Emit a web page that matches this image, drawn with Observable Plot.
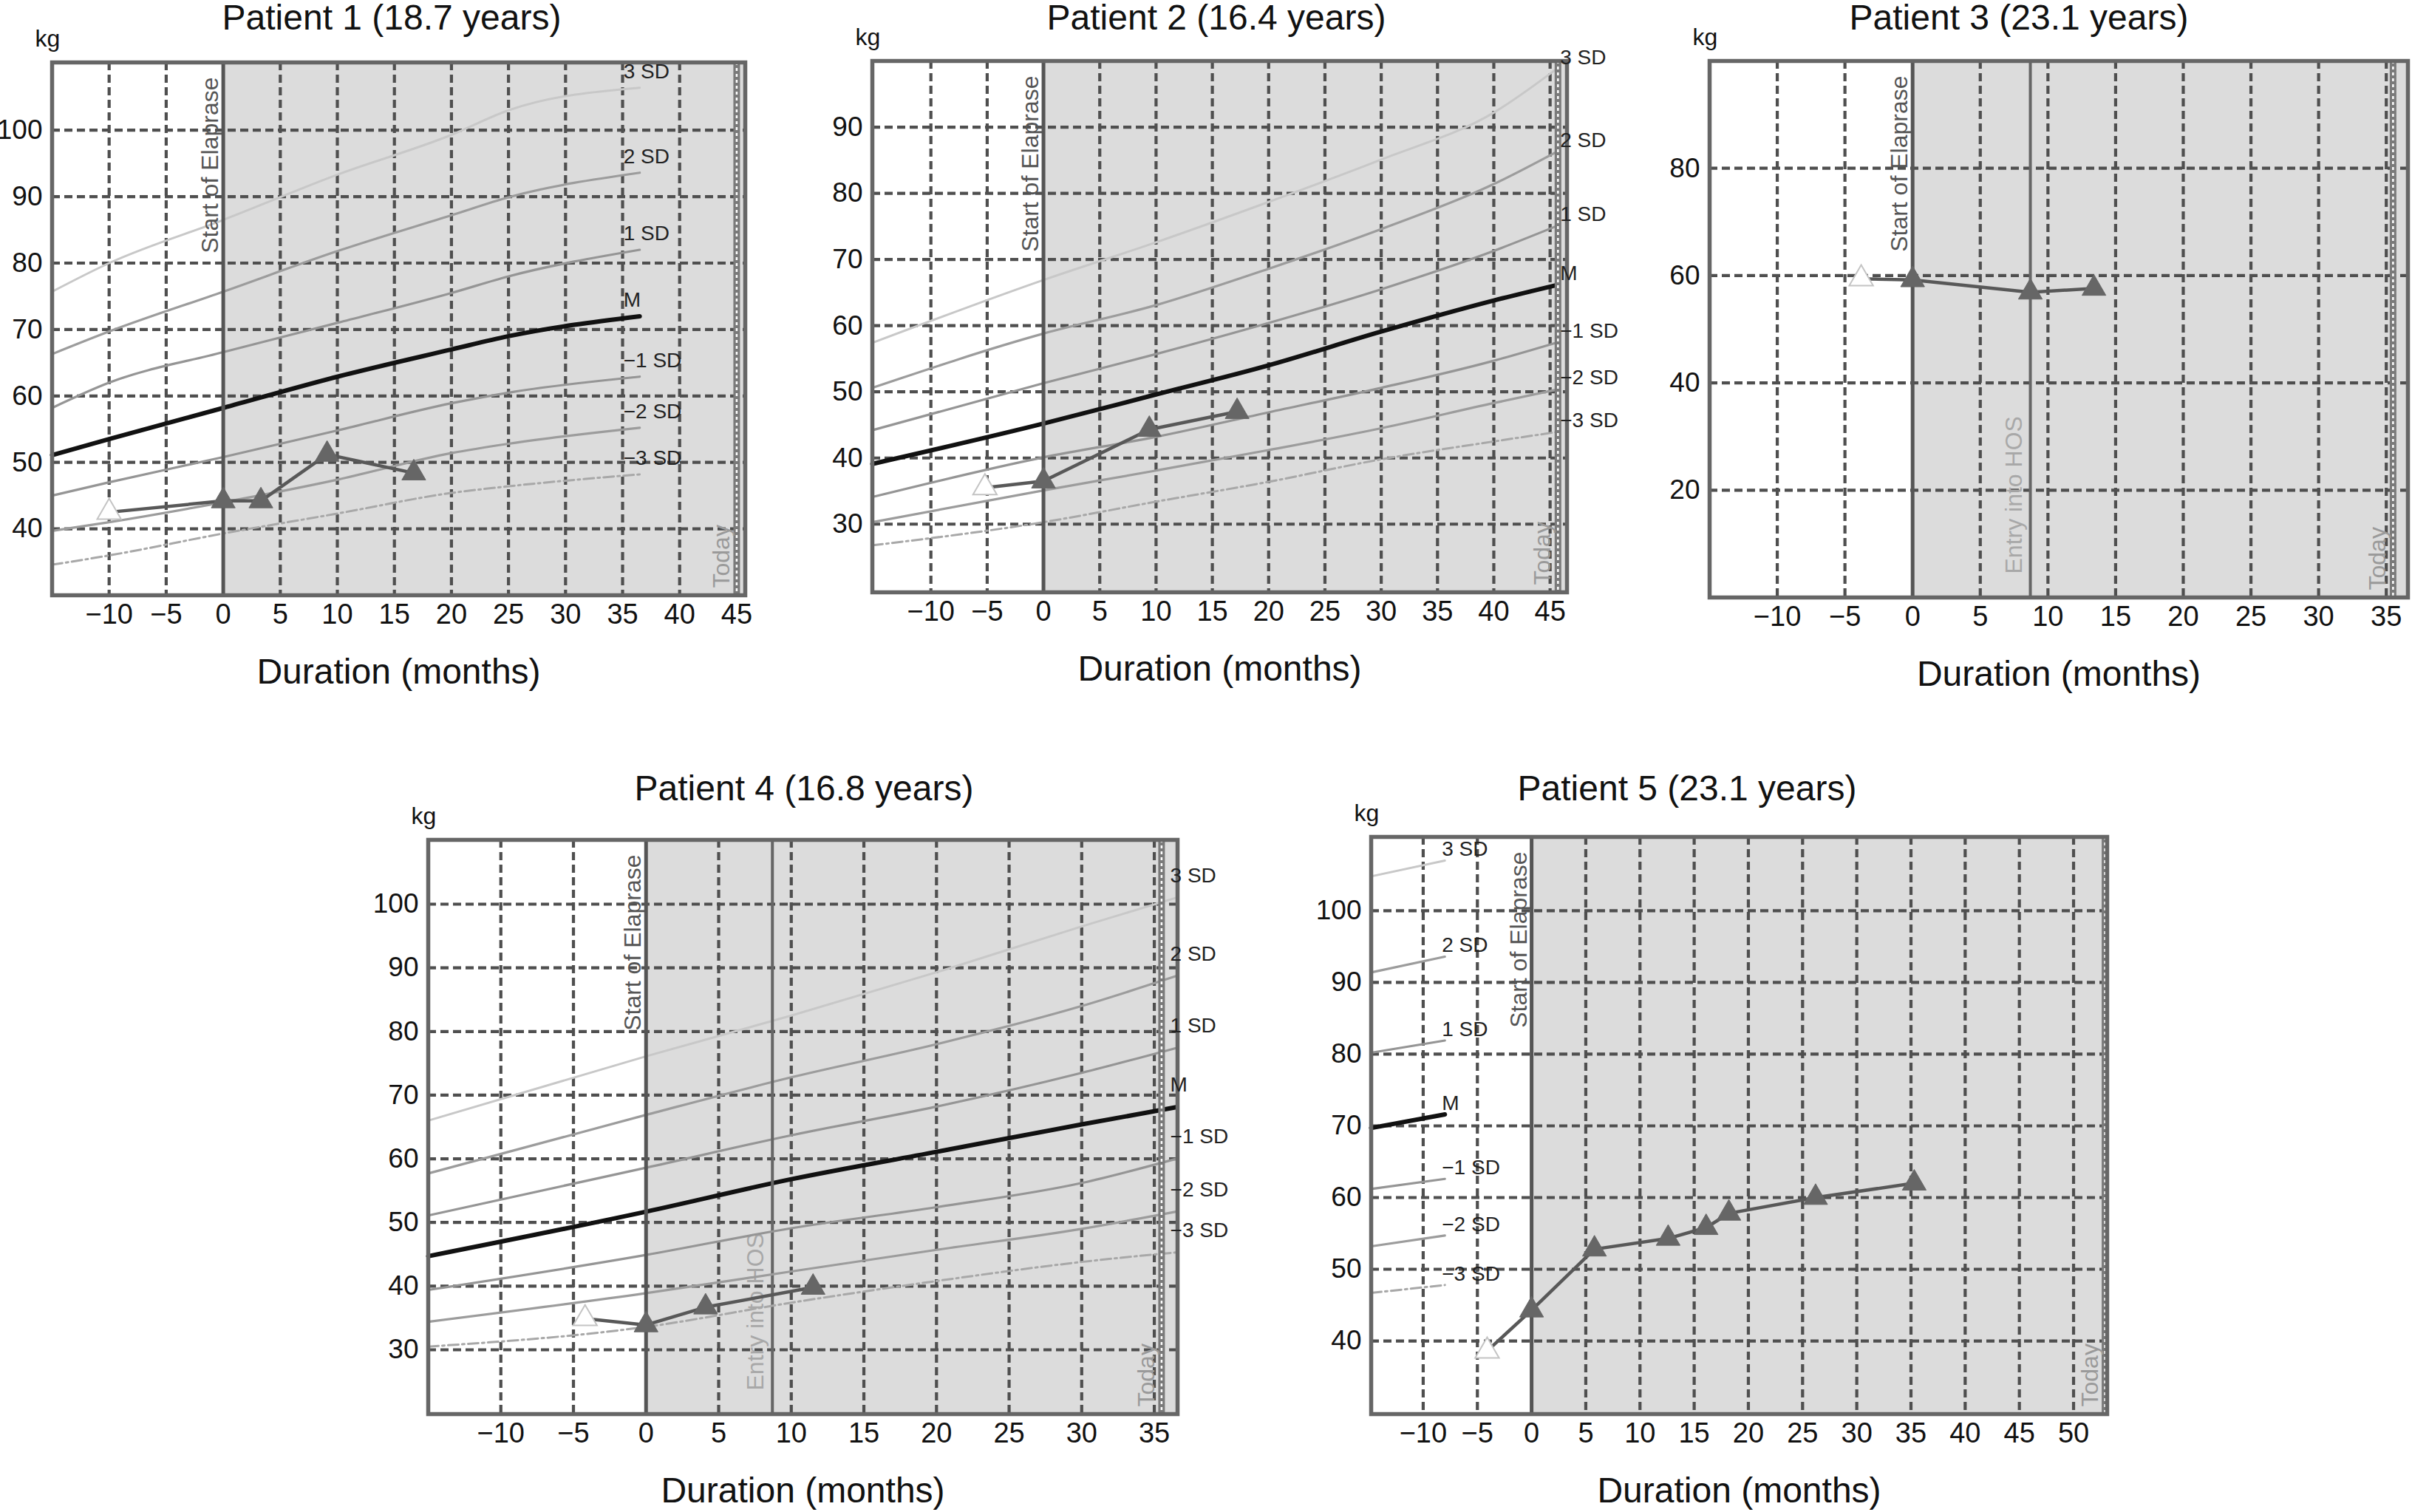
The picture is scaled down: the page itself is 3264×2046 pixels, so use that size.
<!DOCTYPE html>
<html>
<head>
<meta charset="utf-8">
<script src="https://cdn.jsdelivr.net/npm/d3@7"></script>
<script src="https://cdn.jsdelivr.net/npm/@observablehq/plot@0.6"></script>
<style>
  body { margin: 0; width: 3264px; height: 2046px; overflow: hidden; background: #fff; position: relative;
         font-family: "Liberation Sans", Arial, sans-serif; }
  .panel-title { position: absolute; font-size: 48px; color: #111; white-space: nowrap; transform: translate(-50%, -50%); }
  .panel { position: absolute; }
</style>
</head>
<body>
<div id="charts"></div>
<script>
// reference curve labels, top to bottom
const sdLabels = ["3 SD", "2 SD", "1 SD", "M", "\u22121 SD", "\u22122 SD", "\u22123 SD"];

const titles = ["Patient 1 (18.7 years)", "Patient 2 (16.4 years)", "Patient 3 (23.1 years)",
                "Patient 4 (16.8 years)", "Patient 5 (23.1 years)"];

// measured weights (first one is before Elaprase)
const p1Months = [-10, 0, 3.3, 9.1, 16.7];
const p1Kg = [42.5, 44.2, 44.2, 51.2, 48.4];
const p2Months = [-5.2, 0, 9.4, 17.2];
const p2Kg = [35.5, 36.5, 44.3, 47];
const p3Months = [-3.8, 0, 8.7, 13.4];
const p3Kg = [59.4, 59.2, 56.9, 57.6];
const p4Months = [-4.2, 0, 4.1, 11.5];
const p4Kg = [34.9, 33.9, 36.7, 39.8];
const p5Months = [-4.1, 0, 5.8, 12.6, 16.1, 18.2, 26.2, 35.3];
const p5Kg = [38.6, 44.3, 52.8, 54.3, 55.8, 57.8, 60, 62];

// reference curves (3 SD ... -3 SD), sampled at these months
const p1CurveMonths = [-15, -10, 0, 10, 20, 25, 36.5];
const p1Curves = [
  [75.7, 80, 86.5, 93.3, 99.3, 103, 106.4],
  [66.3, 69.7, 75.7, 81.8, 87.2, 89.9, 93.6],
  [58.2, 62, 66.6, 71, 75.5, 78, 82],
  [51.1, 53.5, 58.2, 62.9, 67, 69, 72],
  [45, 47, 50.8, 54.8, 58.9, 60.5, 62.9],
  [39.7, 41, 44, 47.4, 51.4, 52.8, 55.2],
  [34.6, 36, 39.3, 42.3, 45.4, 46.4, 48.2]
];
const p2CurveMonths = [-15.2, 0, 10, 20, 30, 40, 45.5];
const p2Curves = [
  [57.4, 66.9, 72.6, 78.7, 85.1, 92.2, 98.7],
  [50.6, 58.8, 63.1, 68.6, 74.6, 81.4, 86.2],
  [44.2, 51.3, 55.7, 60.4, 65.5, 71.3, 75],
  [39.1, 45.2, 49.6, 54, 59.1, 63.8, 66.1],
  [34.1, 40.1, 43.2, 46.9, 50.6, 54.7, 57.4],
  [30.3, 35.1, 38.1, 41.2, 44.5, 48.3, 50.3],
  [26.8, 30.3, 33.4, 36.4, 39.8, 42.5, 43.9]
];
const p3CurveMonths = [];
const p3Curves = [];
const p4CurveMonths = [-15, 0, 10, 20, 30, 36.5];
const p4Curves = [
  [66, 76.1, 82.5, 89.3, 96.5, 101],
  [57.7, 66.9, 72.8, 78, 84, 88.7],
  [51.1, 58.6, 63.7, 68.2, 73.5, 77.4],
  [44.7, 51.7, 56.8, 61.1, 65.4, 68.1],
  [39.4, 44.9, 49.1, 52.4, 56.2, 60],
  [34.4, 38.9, 42.3, 45.7, 49, 51.7],
  [30.5, 33.6, 37.4, 40.8, 43.8, 45.3]
];
const p5CurveMonths = [-14.8, -8];
const p5Curves = [
  [104.8, 107],
  [91.4, 93.6],
  [80.2, 81.9],
  [69.7, 71.6],
  [61.2, 62.6],
  [53.2, 54.7],
  [46.7, 47.8]
];

// axes
const xDomains = [[-15, 45.75], [-15.2, 46.5], [-15, 36.6], [-15, 36.6], [-14.8, 53.1]];
const yDomains = [[30, 110.2], [19.7, 100], [0, 100], [19.9, 110.1], [29.8, 110.3]];
const xTicks = [
  [-10, -5, 0, 5, 10, 15, 20, 25, 30, 35, 40, 45],
  [-10, -5, 0, 5, 10, 15, 20, 25, 30, 35, 40, 45],
  [-10, -5, 0, 5, 10, 15, 20, 25, 30, 35],
  [-10, -5, 0, 5, 10, 15, 20, 25, 30, 35],
  [-10, -5, 0, 5, 10, 15, 20, 25, 30, 35, 40, 45, 50]
];
const yTicks = [
  [40, 50, 60, 70, 80, 90, 100],
  [30, 40, 50, 60, 70, 80, 90],
  [20, 40, 60, 80],
  [30, 40, 50, 60, 70, 80, 90, 100],
  [40, 50, 60, 70, 80, 90, 100]
];

// events (months)
const elapraseStart = 0;
const todayMonth = [45, 45.7, 35.5, 35.5, 52.9];
const hosMonth = [null, null, 8.7, 8.7, null];

const allMonths = [p1Months, p2Months, p3Months, p4Months, p5Months];
const allKg = [p1Kg, p2Kg, p3Kg, p4Kg, p5Kg];
const allCurveMonths = [p1CurveMonths, p2CurveMonths, p3CurveMonths, p4CurveMonths, p5CurveMonths];
const allCurves = [p1Curves, p2Curves, p3Curves, p4Curves, p5Curves];

// page layout: plot frame box in page pixels, title centre, curve label offsets
const layout = [
  {left: 70, top: 84, right: 1008, bottom: 805, titleX: 530, titleY: 23, mr: 40, ldx: -22, ldy: -22},
  {left: 1180, top: 82, right: 2120, bottom: 801, titleX: 1646, titleY: 23, mr: 95, ldx: 6, ldy: -16},
  {left: 2313, top: 82, right: 3258, bottom: 808, titleX: 2732, titleY: 23, mr: 6, ldx: 0, ldy: 0},
  {left: 579, top: 1136, right: 1593, bottom: 1913, titleX: 1088, titleY: 1066, mr: 95, ldx: -8, ldy: -30},
  {left: 1855, top: 1132, right: 2851, bottom: 1913, titleX: 2283, titleY: 1066, mr: 20, ldx: -4, ldy: -15}
];

const curveStroke = ["#c8c8c8", "#9c9c9c", "#959595", "#111111", "#959595", "#9c9c9c", "#a8a8a8"];
const curveWidth = [3, 3.2, 3.2, 6, 3.2, 3.2, 3];
const curveDash = [null, null, null, null, null, null, "14,5,3,5"];

const minusFormat = d => d < 0 ? `\u2212${-d}` : `${d}`;
const fontFamily = '"Liberation Sans", Arial, sans-serif';

const drawPanel = (i) => {
  const L = layout[i];
  const mL = 80, mT = 60, mB = 150, mR = L.mr;
  const [xMin, xMax] = xDomains[i];
  const [yMin, yMax] = yDomains[i];

  const points = allMonths[i].map((m, j) => ({month: m, kg: allKg[i][j]}));
  const curveRows = allCurves[i].flatMap((vals, k) =>
    vals.map((v, j) => ({level: k, month: allCurveMonths[i][j], kg: v})));
  const curveEnds = allCurves[i].map((vals, k) =>
    ({level: k, month: allCurveMonths[i][vals.length - 1], kg: vals[vals.length - 1]}));

  const gridStyle = {stroke: "#4f4f4f", strokeOpacity: 1, strokeWidth: 4.2, strokeDasharray: "11,6"};

  const marks = [
    // treatment period shading
    Plot.rect([null], {x1: () => elapraseStart, x2: () => xMax, y1: () => yMin, y2: () => yMax, fill: "#dcdcdc"}),
    Plot.gridX(xTicks[i].filter(t => t !== elapraseStart), gridStyle),
    Plot.gridY(yTicks[i], gridStyle),
    ...sdLabels.map((lab, k) => Plot.line(curveRows.filter(d => d.level === k), {
      x: "month", y: "kg", curve: "monotone-x",
      stroke: curveStroke[k], strokeWidth: curveWidth[k], strokeDasharray: curveDash[k]
    })),
    Plot.ruleX([elapraseStart], {stroke: "#555", strokeWidth: 5}),
    Plot.ruleX([todayMonth[i]], {stroke: "#7a7a7a", strokeWidth: 9}),
    Plot.ruleX([todayMonth[i]], {stroke: "#fff", strokeWidth: 2.5, strokeDasharray: "4,4"}),
    Plot.frame({stroke: "#666", strokeWidth: 5.5}),
    Plot.text([elapraseStart], {
      x: d => d, frameAnchor: "top", text: () => "Start of Elaprase", rotate: -90,
      textAnchor: "end", lineAnchor: "bottom", dx: -7, dy: 20, fontSize: 32, fill: "#555"
    }),
    Plot.text([todayMonth[i]], {
      x: d => d, frameAnchor: "bottom", text: () => "Today", rotate: -90,
      textAnchor: "start", lineAnchor: "bottom", dx: -10, dy: -10, fontSize: 32, fill: "#9a9a9a"
    }),
    Plot.line(points, {x: "month", y: "kg", stroke: "#585858", strokeWidth: 4.5}),
    Plot.dot(points.filter(d => d.month < elapraseStart), {
      x: "month", y: "kg", symbol: "triangle", r: 12, fill: "#fff", stroke: "#c4c4c4", strokeWidth: 2
    }),
    Plot.dot(points.filter(d => d.month >= elapraseStart), {
      x: "month", y: "kg", symbol: "triangle", r: 12, fill: "#666", stroke: "#666", strokeWidth: 1
    }),
    Plot.text(curveEnds, {
      x: "month", y: "kg", text: d => sdLabels[d.level], textAnchor: "start",
      dx: L.ldx, dy: L.ldy, fontSize: 28, fill: "#222"
    }),
    Plot.axisX(xTicks[i], {tickSize: 0, tickPadding: 12, fontSize: 38, fill: "#111", tickFormat: minusFormat, label: null}),
    Plot.axisY(yTicks[i], {tickSize: 0, tickPadding: 13, fontSize: 37, fill: "#111", label: null}),
    Plot.text(["kg"], {frameAnchor: "top-left", text: d => d, textAnchor: "start", lineAnchor: "middle",
      dx: -23, dy: -32, fontSize: 32, fill: "#111"}),
    Plot.text(["Duration (months)"], {frameAnchor: "bottom", text: d => d, lineAnchor: "middle",
      dy: 104, fontSize: 48, fill: "#111"})
  ];

  if (hosMonth[i] !== null) {
    // drawn under the patient line
    marks.splice(7, 0,
      Plot.ruleX([hosMonth[i]], {stroke: "#666", strokeWidth: 4}),
      Plot.text([hosMonth[i]], {
        x: d => d, frameAnchor: "bottom", text: () => "Entry into HOS", rotate: -90,
        textAnchor: "start", lineAnchor: "bottom", dx: -12, dy: -32, fontSize: 32, fill: "#a8a8a8"
      })
    );
  }

  const chart = Plot.plot({
    width: L.right - L.left + mL + mR,
    height: L.bottom - L.top + mT + mB,
    marginLeft: mL, marginRight: mR, marginTop: mT, marginBottom: mB,
    x: {domain: [xMin, xMax]},
    y: {domain: [yMin, yMax]},
    style: {fontFamily: fontFamily, background: "transparent", overflow: "visible"},
    marks: marks
  });

  const holder = document.createElement("div");
  holder.className = "panel";
  holder.style.left = (L.left - mL) + "px";
  holder.style.top = (L.top - mT) + "px";
  holder.append(chart);
  document.getElementById("charts").append(holder);

  const title = document.createElement("div");
  title.className = "panel-title";
  title.textContent = titles[i];
  title.style.left = L.titleX + "px";
  title.style.top = L.titleY + "px";
  document.getElementById("charts").append(title);
};

titles.forEach((t, i) => drawPanel(i));
</script>
</body>
</html>
